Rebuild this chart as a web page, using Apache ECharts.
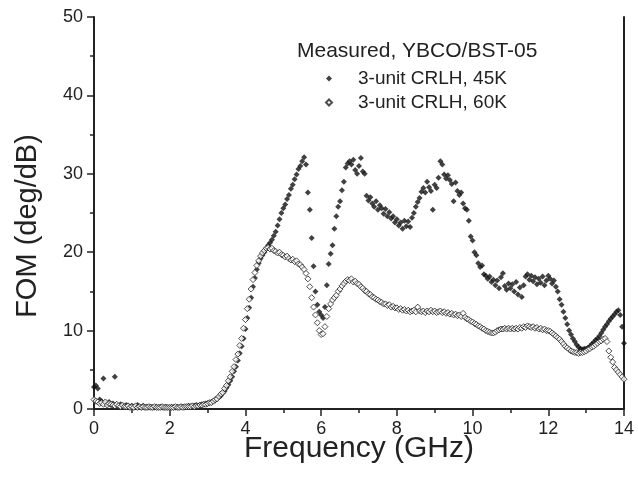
<!DOCTYPE html>
<html>
<head>
<meta charset="utf-8">
<script src="https://cdn.jsdelivr.net/npm/echarts@6/dist/echarts.min.js"></script>
<style>
  html, body { margin: 0; padding: 0; background: #ffffff; }
  #fom-chart { width: 638px; height: 493px; }
</style>
</head>
<body>
<div id="fom-chart"></div>
<script>
// frequency sweep: 0 .. 14 GHz, one reading every 0.05 GHz
const freqStart = 0;
const freqStep = 0.05;

const xTicks = [0, 2, 4, 6, 8, 10, 12, 14];
const yTicks = [0, 10, 20, 30, 40, 50];

const legendTitle = 'Measured, YBCO/BST-05';
const seriesNames = ['3-unit CRLH, 45K', '3-unit CRLH, 60K'];

// FOM (deg/dB) at 45K, one row per GHz
const fom45K = [
  2.8, 3.0, 2.6, 1.2, 1.0, 3.9, 0.8, 0.6, 0.9, 0.5, 0.7, 4.1, 0.5, 0.4, 0.6, 0.4, 0.3, 0.5, 0.4, 0.3,
  0.4, 0.3, 0.3, 0.5, 0.3, 0.2, 0.4, 0.2, 0.3, 0.2, 0.3, 0.2, 0.2, 0.3, 0.2, 0.3, 0.2, 0.2, 0.3, 0.2,
  0.2, 0.3, 0.2, 0.2, 0.3, 0.2, 0.3, 0.3, 0.2, 0.3, 0.4, 0.3, 0.4, 0.4, 0.5, 0.4, 0.5, 0.6, 0.6, 0.7,
  0.7, 0.8, 0.9, 1.0, 1.1, 1.3, 1.5, 1.7, 2.0, 2.3, 2.7, 3.1, 3.6, 4.1, 4.8, 5.4, 6.2, 7.1, 8.0, 9.0,
  10.2, 11.6, 12.9, 14.2, 15.6, 16.7, 17.8, 18.6, 19.2, 19.6, 20.0, 20.4, 20.9, 21.2, 21.6, 22.1, 22.6, 23.4, 24.2, 25.0,
  25.6, 26.1, 26.8, 27.3, 28.1, 28.6, 29.3, 29.9, 30.6, 31.0, 31.6, 32.1, 31.2, 27.6, 25.4, 21.8, 18.2, 15.0, 13.3, 12.4,
  12.0, 11.6, 13.0, 15.8, 18.5, 19.8, 20.9, 23.0, 24.6, 25.8, 26.5, 27.9, 29.0, 30.8, 31.3, 31.6, 31.2, 31.8, 30.5, 30.0,
  31.0, 32.0, 30.3, 30.0, 27.2, 26.6, 27.0, 26.2, 25.8, 26.5, 25.4, 26.0, 25.6, 24.9, 25.5, 24.6, 25.1, 24.3, 24.6, 23.8,
  24.2, 23.4, 23.8, 23.0, 24.0, 23.3, 23.9, 23.2, 24.4, 25.0, 25.8, 26.4, 26.9, 27.7, 28.2, 27.6, 29.0, 28.3, 27.8, 25.4,
  28.6, 28.2, 29.5, 31.6, 31.2, 29.9, 29.4, 29.8, 29.2, 28.7, 26.5, 28.9, 27.8, 27.3, 27.6, 26.2, 25.6, 25.4, 24.0, 22.0,
  21.5, 20.0, 19.6, 18.6, 18.1, 18.3, 17.2, 17.0, 16.6, 16.9, 16.2, 16.5, 15.8, 16.4, 15.4, 16.8, 17.3, 15.7, 15.2, 16.0,
  15.4, 15.9, 15.0, 16.2, 14.6, 15.5, 14.3, 15.8, 16.9, 17.2, 16.5, 17.0, 16.3, 16.8, 15.9, 16.6, 16.1, 16.9, 15.8, 16.4,
  17.0, 16.6, 16.0, 16.4, 15.6, 15.0, 14.0, 13.3, 12.4, 11.6, 10.8, 10.0, 9.5, 9.0, 8.6, 8.2, 7.9, 7.7, 7.6, 7.7,
  7.7, 7.8, 8.0, 8.3, 8.5, 8.8, 9.0, 9.3, 9.7, 10.1, 10.5, 10.8, 11.2, 11.5, 11.8, 12.1, 12.4, 12.6, 12.0, 10.5,
  8.4
];

// FOM (deg/dB) at 60K, one row per GHz
const fom60K = [
  1.2, 1.0, 0.9, 0.7, 0.8, 0.6, 0.9, 0.5, 0.7, 0.6, 0.5, 0.4, 0.6, 0.4, 0.3, 0.5, 0.3, 0.3, 0.4, 0.2,
  0.3, 0.2, 0.4, 0.2, 0.3, 0.2, 0.3, 0.2, 0.2, 0.3, 0.2, 0.2, 0.3, 0.2, 0.2, 0.2, 0.3, 0.2, 0.2, 0.2,
  0.2, 0.2, 0.2, 0.3, 0.2, 0.2, 0.3, 0.2, 0.3, 0.3, 0.3, 0.3, 0.4, 0.3, 0.4, 0.4, 0.5, 0.5, 0.6, 0.6,
  0.7, 0.8, 0.8, 1.0, 1.2, 1.3, 1.6, 1.9, 2.1, 2.6, 3.0, 3.6, 4.1, 4.8, 5.4, 6.3, 7.0, 8.1, 9.0, 10.3,
  11.4, 12.8, 14.0, 15.3, 16.5, 17.4, 18.3, 18.9, 19.5, 19.9, 20.2, 20.5, 20.6, 20.4, 20.5, 20.2, 20.1, 19.9, 20.0, 19.7,
  19.6, 19.4, 19.5, 19.2, 19.0, 19.1, 18.8, 18.9, 18.5, 18.4, 18.1, 17.8, 17.3, 16.6, 15.6, 14.2, 13.0, 12.0, 11.0, 10.0,
  9.5, 9.6, 10.5, 11.8, 12.8, 13.4, 13.9, 14.2, 14.5, 15.0, 15.3, 15.7, 16.0, 16.3, 16.5, 16.4, 16.6, 16.2, 16.3, 16.0,
  15.9, 15.6, 15.4, 15.1, 15.0, 14.7, 14.6, 14.3, 14.2, 14.0, 13.9, 13.7, 13.6, 13.4, 13.4, 13.2, 13.3, 13.0, 13.1, 12.9,
  12.9, 12.7, 12.8, 12.6, 12.7, 12.5, 12.6, 12.4, 12.5, 12.6, 12.4, 13.0, 12.5, 12.4, 12.5, 12.3, 12.5, 12.4, 12.6, 12.4,
  12.5, 12.3, 12.4, 12.5, 12.3, 12.4, 12.2, 12.3, 12.1, 12.2, 12.0, 12.1, 11.9, 12.0, 11.8, 12.2, 11.7, 11.5, 11.4, 11.2,
  11.1, 10.9, 10.8, 10.6, 10.5, 10.3, 10.2, 10.0, 9.9, 9.8, 9.7, 9.7, 9.8, 10.0, 10.1, 10.2, 10.2, 10.3, 10.2, 10.3,
  10.2, 10.3, 10.2, 10.3, 10.2, 10.4, 10.3, 10.5, 10.4, 10.6, 10.5, 10.4, 10.5, 10.3, 10.4, 10.2, 10.3, 10.1, 10.2, 10.0,
  10.0, 9.9, 9.7, 9.5, 9.3, 9.1, 8.9, 8.6, 8.3, 8.0, 7.8, 7.6, 7.4, 7.3, 7.2, 7.2, 7.1, 7.2, 7.2, 7.3,
  7.4, 7.6, 7.7, 7.9, 8.0, 8.2, 8.4, 8.6, 8.7, 8.9, 9.0, 8.6, 7.4, 6.6, 6.0, 5.3, 5.0, 4.7, 4.4, 4.1,
  3.8
];

function toPoints(values) {
  return values.map((v, i) => [+(freqStart + i * freqStep).toFixed(2), v]);
}

const ink = '#222222';
const font = 'Liberation Sans, Arial, sans-serif';

let chart = echarts.init(document.getElementById('fom-chart'), null, { renderer: 'canvas' });

let option = {
  animation: false,
  backgroundColor: '#ffffff',
  title: {
    text: legendTitle,
    left: 292,
    top: 36,
    textStyle: { fontFamily: font, fontSize: 21, fontWeight: 'normal', color: ink }
  },
  legend: {
    orient: 'vertical',
    left: 320,
    top: 64,
    itemGap: 5,
    itemWidth: 6,
    itemHeight: 6,
    data: [
      { name: seriesNames[0], icon: 'diamond' },
      { name: seriesNames[1], icon: 'diamond' }
    ],
    textStyle: { fontFamily: font, fontSize: 19, color: ink, padding: [0, 0, 0, 21] }
  },
  grid: { left: 94, right: 14, top: 17, bottom: 84 },
  xAxis: {
    type: 'value',
    min: xTicks[0],
    max: xTicks[xTicks.length - 1],
    interval: 2,
    name: 'Frequency (GHz)',
    nameLocation: 'middle',
    nameGap: 25,
    nameMoveOverlap: false,
    nameTextStyle: { fontFamily: font, fontSize: 30, color: ink },
    axisLine: { show: true, onZero: false, lineStyle: { color: ink, width: 2 } },
    axisTick: { show: true, inside: false, length: 7, lineStyle: { color: ink, width: 1.5 } },
    minorTick: { show: true, splitNumber: 2, length: 4, lineStyle: { color: ink, width: 1.5 } },
    splitLine: { show: false },
    axisLabel: { fontFamily: font, fontSize: 18, color: ink, margin: 11 }
  },
  yAxis: [
    {
      type: 'value',
      min: yTicks[0],
      max: yTicks[yTicks.length - 1],
      interval: 10,
      name: 'FOM (deg/dB)',
      nameLocation: 'middle',
      nameGap: 52,
      nameMoveOverlap: false,
      nameTextStyle: { fontFamily: font, fontSize: 29, color: ink, padding: [0, 26, 0, 0] },
      axisLine: { show: true, onZero: false, lineStyle: { color: ink, width: 2 } },
      axisTick: { show: true, inside: false, length: 7, lineStyle: { color: ink, width: 1.5 } },
      minorTick: { show: true, splitNumber: 2, length: 4, lineStyle: { color: ink, width: 1.5 } },
      splitLine: { show: false },
      axisLabel: { fontFamily: font, fontSize: 18, color: ink, margin: 11 }
    },
    {
      type: 'value',
      position: 'right',
      min: yTicks[0],
      max: yTicks[yTicks.length - 1],
      axisLine: { show: true, onZero: false, lineStyle: { color: ink, width: 2 } },
      axisTick: { show: false },
      axisLabel: { show: false },
      splitLine: { show: false }
    }
  ],
  series: [
    {
      name: seriesNames[0],
      type: 'scatter',
      symbol: 'diamond',
      symbolSize: 6,
      data: toPoints(fom45K),
      itemStyle: { color: '#111111' }
    },
    {
      name: seriesNames[1],
      type: 'scatter',
      symbol: 'diamond',
      symbolSize: 6,
      data: toPoints(fom60K),
      itemStyle: { color: '#ffffff', borderColor: '#222222', borderWidth: 1 }
    }
  ]
};

chart.setOption(option);
</script>
</body>
</html>
